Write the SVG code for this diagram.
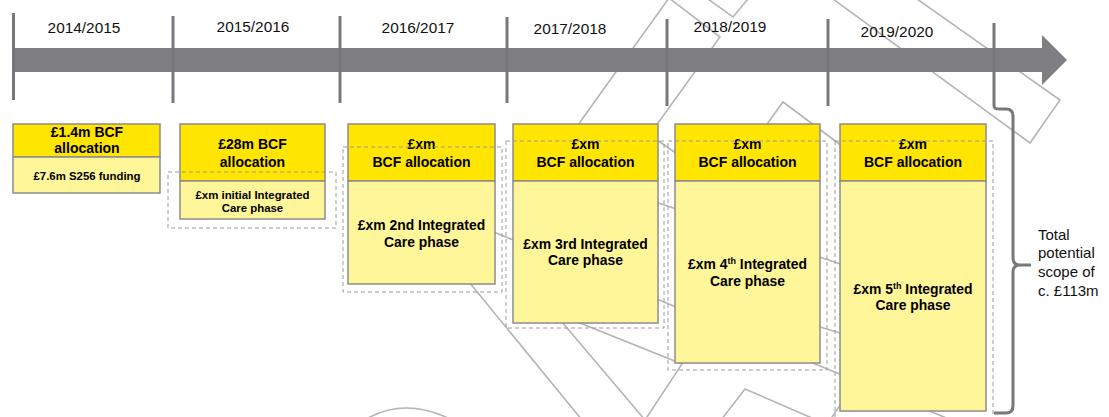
<svg xmlns="http://www.w3.org/2000/svg" width="1109" height="417" viewBox="0 0 1109 417">
  <style>
    .yr { font-family: "Liberation Sans", Arial, sans-serif; font-size: 15.4px; fill: #111; text-anchor: middle; }
    .hd { font-family: "Liberation Sans", Arial, sans-serif; font-size: 14px; font-weight: bold; fill: #000; text-anchor: middle; }
    .bd { font-family: "Liberation Sans", Arial, sans-serif; font-size: 13.9px; font-weight: bold; fill: #000; text-anchor: middle; }
    .sm { font-family: "Liberation Sans", Arial, sans-serif; font-size: 11.4px; font-weight: bold; fill: #000; text-anchor: middle; }
    .note { font-family: "Liberation Sans", Arial, sans-serif; font-size: 15px; fill: #111; }
    .head { fill: #ffe500; stroke: #8c8c8c; stroke-width: 1.5; }
    .body { fill: #fff599; stroke: #8c8c8c; stroke-width: 1.5; }
    .scope { fill: none; stroke: #9c9c9c; stroke-width: 1; stroke-dasharray: 4 3; }
    .wm { fill: none; stroke: #b5b5b5; stroke-width: 1.6; stroke-linejoin: miter; }
    .tick { stroke: #78777c; stroke-width: 3; fill: none; }
  </style>

  <!-- faint background outline shapes -->
  <g id="background-outline" class="wm">
    <polyline points="560,150 669,-2 720,37 640,148"/>
    <polyline points="708,-1 733,17 748,-1"/>
    <polyline points="760,134 783,102 850,152"/>
    <polyline points="833,-1 1030,143 1060,100 917,-1"/>
    <line x1="640" y1="128" x2="700" y2="170"/>
    <line x1="450" y1="214" x2="1000" y2="440"/>
    <line x1="560" y1="170" x2="900" y2="284"/>
    <polyline points="545,302 645,420 682,364 550,311"/>
    <line x1="460" y1="271" x2="582" y2="420"/>
    <line x1="800" y1="321" x2="860" y2="339"/>
    <polyline points="721,420 745,389 812,418"/>
    <line x1="830" y1="420" x2="845" y2="398"/>
    <path d="M368,418 Q405,398 448,418"/>
  </g>

  <!-- timeline arrow, year ticks and scope brace -->
  <g id="connectors">
    <path id="timeline" d="M15,48 H1042 V35 L1067,60 L1042,85 V72 H15 Z" fill="#7f7e83"/>
    <line class="tick" x1="13.5" y1="13" x2="13.5" y2="100"/>
    <line class="tick" x1="173" y1="16" x2="173" y2="103"/>
    <line class="tick" x1="340" y1="16" x2="340" y2="103"/>
    <line class="tick" x1="507" y1="17" x2="507" y2="103"/>
    <line class="tick" x1="667" y1="19" x2="667" y2="106"/>
    <line class="tick" x1="828" y1="19" x2="828" y2="106"/>
    <path id="scope-brace" class="tick" d="M994,23 V106 Q994,109 1000,109 H1006 Q1013,109 1013,116 V258 Q1013,265 1020,265 H1031 M1020,265 Q1013,265 1013,272 V406 Q1013,413 1006,413 H994"/>
  </g>

  <!-- year labels -->
  <g id="years">
    <text class="yr" x="84" y="33">2014/2015</text>
    <text class="yr" x="253" y="32">2015/2016</text>
    <text class="yr" x="418" y="33">2016/2017</text>
    <text class="yr" x="570" y="34">2017/2018</text>
    <text class="yr" x="730" y="32">2018/2019</text>
    <text class="yr" x="897" y="37">2019/2020</text>
  </g>

  <!-- 2014/2015 -->
  <g id="year-2014">
    <rect class="head" x="13" y="124" width="147" height="33"/>
    <rect class="body" x="13" y="157" width="147" height="36"/>
    <text class="hd" x="87" y="137">£1.4m BCF</text>
    <text class="hd" x="87" y="153">allocation</text>
    <text class="sm" x="87" y="180">£7.6m S256 funding</text>
  </g>

  <!-- 2015/2016 -->
  <g id="year-2015">
    <rect class="head" x="180" y="124" width="145" height="57"/>
    <rect class="body" x="180" y="181" width="145" height="38"/>
    <text class="hd" x="252.5" y="149">£28m BCF</text>
    <text class="hd" x="252.5" y="167">allocation</text>
    <text class="sm" x="252.5" y="199">£xm initial Integrated</text>
    <text class="sm" x="252.5" y="212">Care phase</text>
    <rect class="scope" x="168" y="172" width="168" height="56"/>
  </g>

  <!-- 2016/2017 -->
  <g id="year-2016">
    <rect class="head" x="348" y="124" width="147" height="57"/>
    <rect class="body" x="348" y="181" width="147" height="103"/>
    <text class="hd" x="421.5" y="149">£xm</text>
    <text class="hd" x="421.5" y="167">BCF allocation</text>
    <text class="bd" x="421.5" y="230">£xm 2nd Integrated</text>
    <text class="bd" x="421.5" y="247">Care phase</text>
    <rect class="scope" x="343" y="147" width="159" height="145"/>
  </g>

  <!-- 2017/2018 -->
  <g id="year-2017">
    <rect class="head" x="513" y="124" width="145" height="57"/>
    <rect class="body" x="513" y="181" width="145" height="142"/>
    <text class="hd" x="585.5" y="149">£xm</text>
    <text class="hd" x="585.5" y="167">BCF allocation</text>
    <text class="bd" x="585.5" y="249">£xm 3rd Integrated</text>
    <text class="bd" x="585.5" y="265">Care phase</text>
    <rect class="scope" x="506" y="141" width="158" height="187"/>
  </g>

  <!-- 2018/2019 -->
  <g id="year-2018">
    <rect class="head" x="675" y="124" width="145" height="57"/>
    <rect class="body" x="675" y="181" width="145" height="182"/>
    <text class="hd" x="747.5" y="149">£xm</text>
    <text class="hd" x="747.5" y="167">BCF allocation</text>
    <text class="bd" x="747.5" y="269">£xm 4<tspan font-size="9" dy="-5">th</tspan><tspan dy="5"> Integrated</tspan></text>
    <text class="bd" x="747.5" y="286">Care phase</text>
    <rect class="scope" x="668" y="141" width="159" height="229"/>
  </g>

  <!-- 2019/2020 -->
  <g id="year-2019">
    <rect class="head" x="840" y="124" width="146" height="57"/>
    <rect class="body" x="840" y="181" width="146" height="230"/>
    <text class="hd" x="913" y="149">£xm</text>
    <text class="hd" x="913" y="167">BCF allocation</text>
    <text class="bd" x="913" y="294">£xm 5<tspan font-size="9" dy="-5">th</tspan><tspan dy="5"> Integrated</tspan></text>
    <text class="bd" x="913" y="310">Care phase</text>
    <rect class="scope" x="835" y="141" width="158" height="285"/>
  </g>

  <!-- total scope note -->
  <g id="total-scope">
    <text class="note" x="1038" y="240">Total</text>
    <text class="note" x="1038" y="258">potential</text>
    <text class="note" x="1038" y="277">scope of</text>
    <text class="note" x="1038" y="296">c. £113m</text>
  </g>
</svg>
